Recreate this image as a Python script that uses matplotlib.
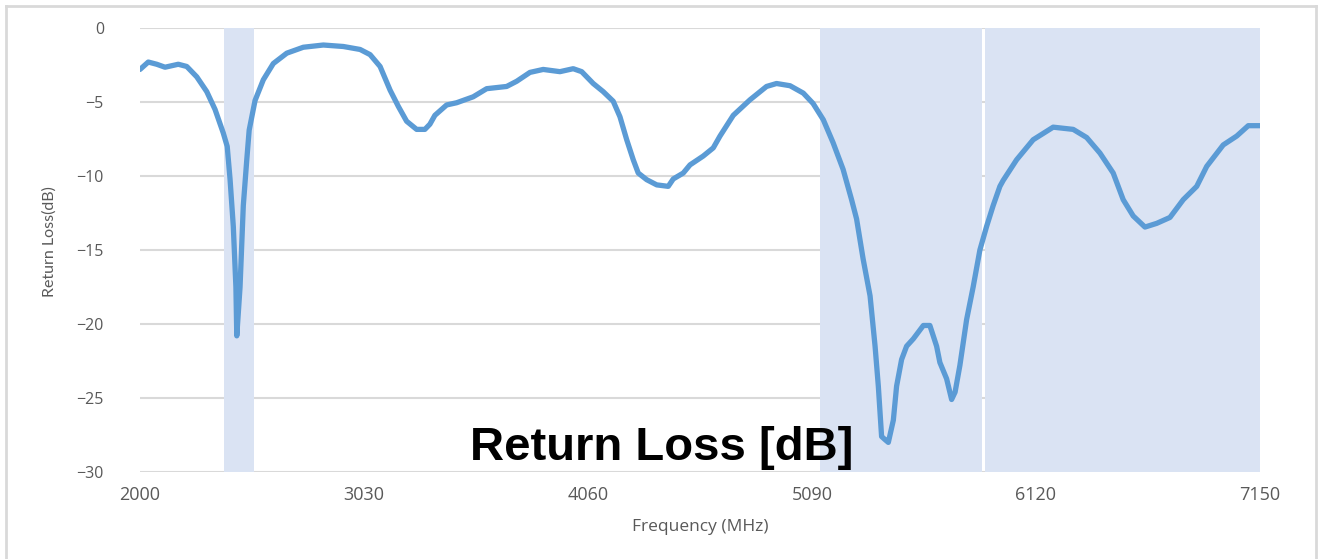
import matplotlib
matplotlib.use("Agg")
import matplotlib.pyplot as plt
from matplotlib.lines import Line2D

# datos (MHz, dB)
frecuencia = [2000, 2038, 2077, 2115, 2176, 2215, 2261, 2307, 2345, 2383,
              2401, 2414, 2429, 2441, 2445, 2460, 2475, 2491, 2502, 2529,
              2567, 2613, 2675, 2751, 2843, 2935, 3012, 3058, 3104, 3150,
              3188, 3226, 3272, 3310, 3333, 3356, 3410, 3456, 3532, 3594,
              3686, 3732, 3793, 3854, 3931, 3992, 4031, 4084, 4130, 4176,
              4207, 4238, 4268, 4291, 4330, 4376, 4429, 4452, 4498, 4529,
              4590, 4636, 4667, 4728, 4805, 4881, 4927, 4989, 5050, 5095,
              5142, 5187, 5233, 5272, 5295, 5325, 5357, 5380, 5395, 5410,
              5425, 5441, 5464, 5479, 5502, 5525, 5556, 5602, 5632, 5663,
              5678, 5709, 5732, 5748, 5770, 5801, 5831, 5862, 5893, 5923,
              5954, 5969, 6031, 6107, 6199, 6291, 6353, 6414, 6475, 6521,
              6567, 6621, 6675, 6736, 6797, 6859, 6905, 6981, 7043, 7096,
              7150]
perdida = [-2.8, -2.3, -2.45, -2.65, -2.45, -2.6, -3.3, -4.3, -5.5, -7.1,
           -8.0, -10.2, -13.4, -17.5, -20.8, -17.5, -12.0, -8.9, -6.9, -4.9,
           -3.5, -2.4, -1.7, -1.3, -1.15, -1.25, -1.45, -1.8, -2.6, -4.2,
           -5.3, -6.3, -6.85, -6.85, -6.5, -5.9, -5.2, -5.05, -4.65, -4.1,
           -3.95, -3.6, -3.0, -2.8, -2.95, -2.75, -2.95, -3.75, -4.3, -4.95,
           -6.0, -7.55, -8.9, -9.8, -10.25, -10.6, -10.7, -10.2, -9.8, -9.25,
           -8.65, -8.1, -7.3, -5.9, -4.85, -3.95, -3.75, -3.9, -4.4, -5.1,
           -6.2, -7.75, -9.55, -11.6, -12.9, -15.6, -18.1, -21.5, -24.2, -27.6,
           -27.8, -28.0, -26.5, -24.2, -22.4, -21.5, -21.0, -20.1, -20.1, -21.5,
           -22.6, -23.7, -25.1, -24.6, -22.8, -19.7, -17.5, -15.0, -13.4, -12.0,
           -10.7, -10.3, -8.9, -7.55, -6.7, -6.85, -7.4, -8.45, -9.8, -11.6,
           -12.7, -13.45, -13.2, -12.8, -11.6, -10.7, -9.35, -7.9, -7.3, -6.6,
           -6.6]

# bandas sombreadas (MHz)
bandas = [(2385, 2525), (5127, 5872), (5885, 7150)]
ticks_x = [2000, 3030, 4060, 5090, 6120, 7150]
ticks_y = [0, -5, -10, -15, -20, -25, -30]

gris = "#595959"

fig = plt.figure(figsize=(13.19, 5.59), dpi=100)
ax = fig.add_axes([140 / 1319, 1 - 472 / 559, 1120 / 1319, 444 / 559])

for ini, fin in bandas:
    ax.axvspan(ini, fin, color="#DAE3F3", lw=0, zorder=1)

ax.plot(frecuencia, perdida, color="#5B9BD5", linewidth=3.8, zorder=3,
        solid_joinstyle="round", solid_capstyle="round")

ax.set_xlim(2000, 7150)
ax.set_ylim(-30, 0)
ax.set_xticks(ticks_x)
ax.set_yticks(ticks_y)
ax.grid(True, axis="y", color="#D9D9D9", linewidth=1.5, zorder=0)
ax.set_axisbelow(True)
for s in ax.spines.values():
    s.set_visible(False)
ax.tick_params(length=0)
ax.tick_params(axis="x", labelsize=13, labelcolor=gris, pad=10)
ax.tick_params(axis="y", labelsize=11.5, labelcolor=gris, pad=26)
for lbl in ax.get_xticklabels() + ax.get_yticklabels():
    lbl.set_family("Open Sans")

ax.set_xlabel("Frequency (MHz)", fontsize=12.5, color=gris, family="Open Sans")
ax.xaxis.set_label_coords(0.5, -0.106)
ax.set_ylabel("Return Loss(dB)", fontsize=11.5, color=gris, family="Lato")
ax.yaxis.set_label_coords(-0.074, 0.52)

fig.text(662 / 1319, 1 - 460 / 559, "Return Loss [dB]", fontsize=34,
         fontweight="bold", family="Liberation Sans", color="black",
         ha="center", va="baseline", zorder=5)

# marco exterior
borde = "#D9D9D9"
fig.add_artist(Line2D([6 / 1319, 6 / 1319], [0, 1 - 6 / 559], color=borde, lw=2))
fig.add_artist(Line2D([6 / 1319, 1316 / 1319], [1 - 6 / 559, 1 - 6 / 559], color=borde, lw=2))
fig.add_artist(Line2D([1316 / 1319, 1316 / 1319], [0, 1 - 6 / 559], color=borde, lw=2))

fig.savefig("out.png", dpi=100)
